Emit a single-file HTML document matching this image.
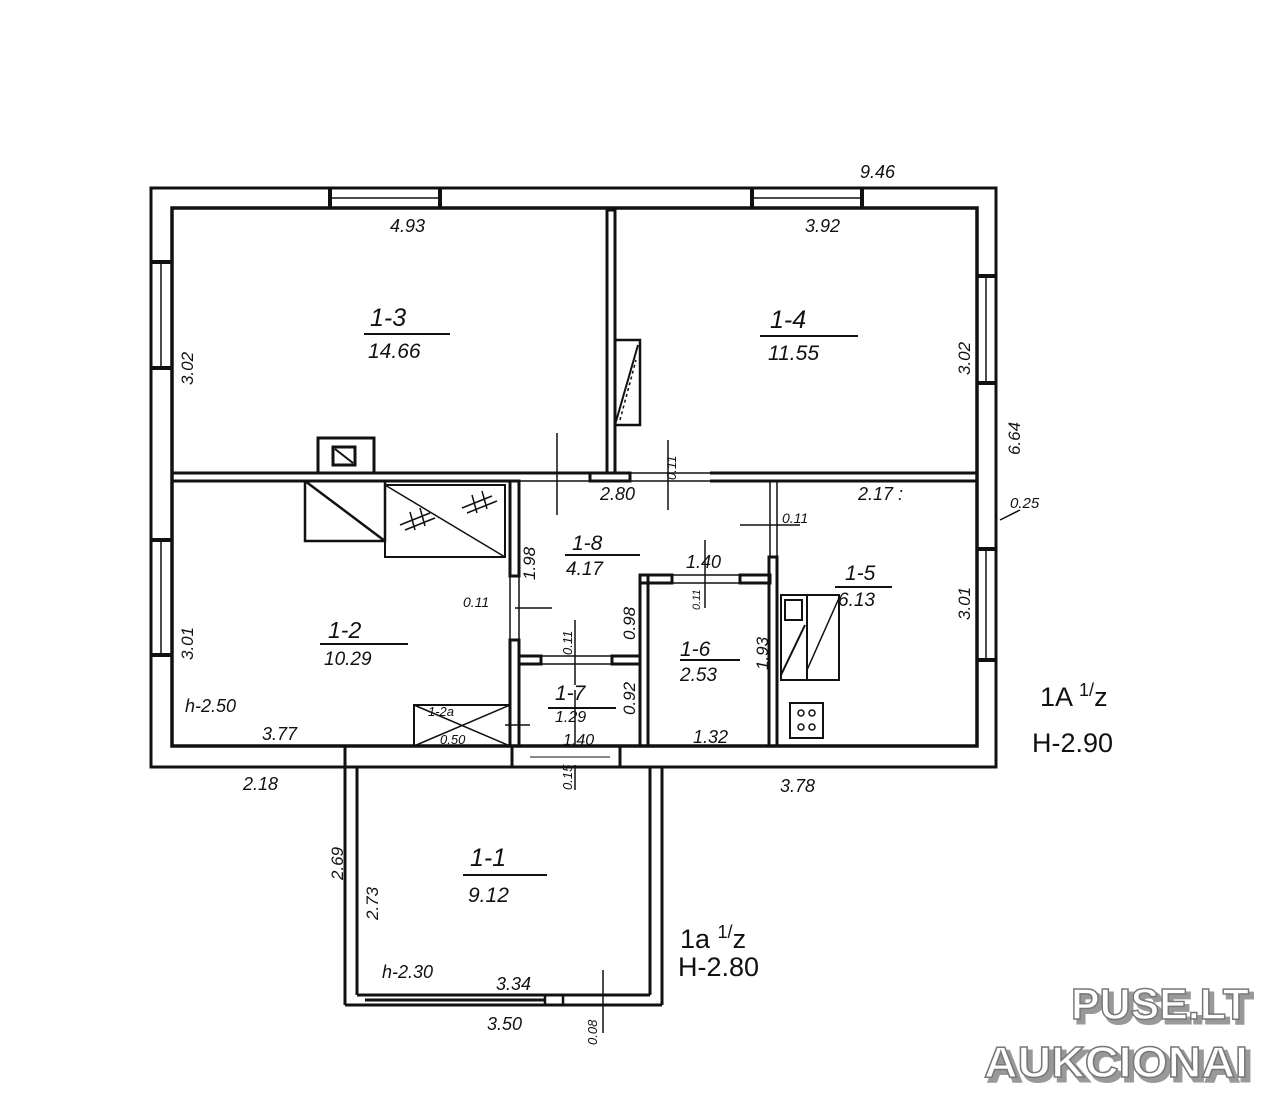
<!DOCTYPE html>
<html><head><meta charset="utf-8"><style>
html,body{margin:0;padding:0;background:#fff;}
svg{display:block;}
text{font-family:"Liberation Sans",sans-serif;font-style:italic;fill:#111;}
.wm{font-family:"Liberation Sans",sans-serif;font-style:normal;font-weight:bold;fill:#fff;stroke:#777;stroke-width:1.5;}
.sh{font-family:"Liberation Sans",sans-serif;font-style:normal;font-weight:bold;fill:#999;stroke:#999;stroke-width:3;}
</style></head><body>
<svg width="1280" height="1107" viewBox="0 0 1280 1107" xmlns="http://www.w3.org/2000/svg">
<g fill="none" stroke="#111">
<rect x="151" y="188" width="845" height="579" stroke-width="3"/>
<rect x="172" y="208" width="805" height="538" stroke-width="3.5"/>
<line x1="330" y1="188" x2="330" y2="208" stroke-width="4"/>
<line x1="440" y1="188" x2="440" y2="208" stroke-width="4"/>
<line x1="330" y1="198" x2="440" y2="198" stroke-width="1.5"/>
<line x1="752" y1="188" x2="752" y2="208" stroke-width="4"/>
<line x1="862" y1="188" x2="862" y2="208" stroke-width="4"/>
<line x1="752" y1="198" x2="862" y2="198" stroke-width="1.5"/>
<line x1="151" y1="262" x2="172" y2="262" stroke-width="4"/>
<line x1="151" y1="368" x2="172" y2="368" stroke-width="4"/>
<line x1="161" y1="262" x2="161" y2="368" stroke-width="1.5"/>
<line x1="151" y1="540" x2="172" y2="540" stroke-width="4"/>
<line x1="151" y1="655" x2="172" y2="655" stroke-width="4"/>
<line x1="161" y1="540" x2="161" y2="655" stroke-width="1.5"/>
<line x1="977" y1="276" x2="996" y2="276" stroke-width="4"/>
<line x1="977" y1="383" x2="996" y2="383" stroke-width="4"/>
<line x1="986" y1="276" x2="986" y2="383" stroke-width="1.5"/>
<line x1="977" y1="549" x2="996" y2="549" stroke-width="4"/>
<line x1="977" y1="660" x2="996" y2="660" stroke-width="4"/>
<line x1="986" y1="549" x2="986" y2="660" stroke-width="1.5"/>
<line x1="345" y1="746" x2="345" y2="767" stroke-width="3"/>
<line x1="512" y1="746" x2="512" y2="767" stroke-width="3"/>
<line x1="620" y1="746" x2="620" y2="767" stroke-width="3"/>
<line x1="530" y1="757" x2="610" y2="757" stroke-width="1"/>

<line x1="172" y1="473" x2="590" y2="473" stroke-width="3"/>
<line x1="172" y1="481" x2="510" y2="481" stroke-width="3"/>
<line x1="520" y1="481" x2="590" y2="481" stroke-width="1.5"/>
<rect x="590" y="473" width="40" height="8" stroke-width="3"/>
<line x1="630" y1="473" x2="710" y2="473" stroke-width="1.5"/>
<line x1="630" y1="481" x2="710" y2="481" stroke-width="1.5"/>
<line x1="710" y1="473" x2="977" y2="473" stroke-width="3"/>
<line x1="710" y1="481" x2="977" y2="481" stroke-width="3"/>
<rect x="607" y="210" width="8" height="263" stroke-width="3"/>
<rect x="615" y="340" width="25" height="85" stroke-width="2.5"/>
<line x1="615" y1="425" x2="638" y2="345" stroke-width="2"/>
<line x1="620" y1="420" x2="636" y2="360" stroke-width="1.5" stroke-dasharray="3,3"/>
<rect x="510" y="481" width="9" height="95" stroke-width="3"/>
<line x1="510" y1="576" x2="510" y2="640" stroke-width="1.5"/>
<line x1="519" y1="576" x2="519" y2="640" stroke-width="1.5"/>
<rect x="510" y="640" width="9" height="106" stroke-width="3"/>
<rect x="519" y="656" width="22" height="8" stroke-width="3"/>
<line x1="541" y1="656" x2="612" y2="656" stroke-width="1.5"/>
<line x1="541" y1="664" x2="612" y2="664" stroke-width="1.5"/>
<rect x="612" y="656" width="28" height="8" stroke-width="3"/>
<rect x="640" y="575" width="8" height="171" stroke-width="3"/>
<rect x="640" y="575" width="32" height="8" stroke-width="3"/>
<line x1="672" y1="575" x2="740" y2="575" stroke-width="1.5"/>
<line x1="672" y1="583" x2="740" y2="583" stroke-width="1.5"/>
<rect x="740" y="575" width="30" height="8" stroke-width="3"/>
<line x1="770" y1="481" x2="770" y2="557" stroke-width="1.5"/>
<line x1="777" y1="481" x2="777" y2="557" stroke-width="1.5"/>
<rect x="769" y="557" width="8" height="189" stroke-width="3"/>
<rect x="781" y="595" width="26" height="85" stroke-width="2"/>
<rect x="807" y="595" width="32" height="85" stroke-width="2"/>
<rect x="785" y="600" width="17" height="20" stroke-width="2"/>
<line x1="781" y1="675" x2="805" y2="625" stroke-width="2"/>
<line x1="807" y1="670" x2="839" y2="598" stroke-width="1.5"/>
<rect x="790" y="703" width="33" height="35" stroke-width="2"/>
<circle cx="801" cy="713" r="3" stroke-width="1.5"/><circle cx="812" cy="713" r="3" stroke-width="1.5"/>
<circle cx="801" cy="727" r="3" stroke-width="1.5"/><circle cx="812" cy="727" r="3" stroke-width="1.5"/>
<rect x="318" y="438" width="56" height="35" stroke-width="3"/>
<rect x="333" y="447" width="22" height="18" stroke-width="3"/>
<line x1="335" y1="449" x2="353" y2="463" stroke-width="2"/>
<rect x="305" y="481" width="80" height="60" stroke-width="2.5"/>
<line x1="305" y1="481" x2="385" y2="541" stroke-width="2.5"/>
<rect x="385" y="485" width="120" height="72" stroke-width="2"/>
<line x1="385" y1="485" x2="505" y2="557" stroke-width="1.5"/>
<path d="M400 525 l30 -12 M405 530 l30 -12 M410 512 l5 18 M420 508 l5 18" stroke-width="1.5"/>
<path d="M462 508 l30 -12 M467 513 l30 -12 M472 495 l5 18 M482 491 l5 18" stroke-width="1.5"/>
<rect x="414" y="705" width="96" height="41" stroke-width="2"/>
<line x1="414" y1="705" x2="510" y2="746" stroke-width="1.5"/>
<line x1="414" y1="746" x2="510" y2="705" stroke-width="1.5"/>
<line x1="345" y1="767" x2="345" y2="1005" stroke-width="3"/>
<line x1="357" y1="767" x2="357" y2="995" stroke-width="3"/>
<line x1="662" y1="767" x2="662" y2="1005" stroke-width="3"/>
<line x1="650" y1="767" x2="650" y2="995" stroke-width="3"/>
<line x1="345" y1="1005" x2="662" y2="1005" stroke-width="3"/>
<line x1="357" y1="995" x2="650" y2="995" stroke-width="3"/>
<line x1="365" y1="1000" x2="545" y2="1000" stroke-width="3"/>
<rect x="545" y="995" width="18" height="10" stroke-width="2.5"/>
<g stroke-width="2">
<line x1="364" y1="334" x2="450" y2="334"/>
<line x1="760" y1="336" x2="858" y2="336"/>
<line x1="565" y1="555" x2="640" y2="555"/>
<line x1="320" y1="644" x2="408" y2="644"/>
<line x1="680" y1="660" x2="740" y2="660"/>
<line x1="548" y1="708" x2="616" y2="708"/>
<line x1="835" y1="587" x2="892" y2="587"/>
<line x1="463" y1="875" x2="547" y2="875"/>
</g>
<g stroke-width="1.5">
<line x1="557" y1="433" x2="557" y2="515"/>
<line x1="668" y1="440" x2="668" y2="510"/>
<line x1="740" y1="525" x2="800" y2="525"/>
<line x1="705" y1="540" x2="705" y2="608"/>
<line x1="515" y1="608" x2="552" y2="608"/>
<line x1="575" y1="620" x2="575" y2="685"/>
<line x1="575" y1="690" x2="575" y2="745"/>
<line x1="505" y1="725" x2="530" y2="725"/>
<line x1="575" y1="765" x2="575" y2="790"/>
<line x1="603" y1="970" x2="603" y2="1033"/>
<line x1="1000" y1="520" x2="1020" y2="510"/>
</g>
</g>
<g font-size="18">
<text x="390" y="232">4.93</text>
<text x="805" y="232">3.92</text>
<text x="860" y="178">9.46</text>
<text x="370" y="326" font-size="25">1-3</text>
<text x="368" y="358" font-size="21">14.66</text>
<text x="770" y="328" font-size="25">1-4</text>
<text x="768" y="360" font-size="21">11.55</text>
<text x="600" y="500">2.80</text>
<text x="858" y="500">2.17 :</text>
<text x="572" y="550" font-size="21">1-8</text>
<text x="566" y="575" font-size="19">4.17</text>
<text x="686" y="568">1.40</text>
<text x="328" y="638" font-size="23">1-2</text>
<text x="324" y="665" font-size="19">10.29</text>
<text x="845" y="580" font-size="21">1-5</text>
<text x="838" y="606" font-size="19">6.13</text>
<text x="680" y="656" font-size="21">1-6</text>
<text x="680" y="681" font-size="19">2.53</text>
<text x="555" y="700" font-size="21">1-7</text>
<text x="555" y="722" font-size="16">1.29</text>
<text x="563" y="745" font-size="16">1.40</text>
<text x="463" y="607" font-size="14">0.11</text>
<text x="782" y="523" font-size="14">0.11</text>
<text x="185" y="712">h-2.50</text>
<text x="262" y="740">3.77</text>
<text x="693" y="743">1.32</text>
<text x="243" y="790">2.18</text>
<text x="780" y="792">3.78</text>
<text x="1010" y="508" font-size="15">0.25</text>
<text x="1040" y="706" font-size="27" style="font-style:normal">1A <tspan font-size="18" dy="-10">1/</tspan><tspan dy="10">z</tspan></text>
<text x="1032" y="752" font-size="27" style="font-style:normal">H-2.90</text>
<text x="470" y="866" font-size="25">1-1</text>
<text x="468" y="902" font-size="21">9.12</text>
<text x="382" y="978">h-2.30</text>
<text x="496" y="990">3.34</text>
<text x="487" y="1030">3.50</text>
<text x="680" y="948" font-size="27" style="font-style:normal">1a <tspan font-size="18" dy="-10">1/</tspan><tspan dy="10">z</tspan></text>
<text x="678" y="976" font-size="27" style="font-style:normal">H-2.80</text>
<text x="428" y="716" font-size="13">1-2a</text>
<text x="440" y="744" font-size="13">0.50</text>
</g>
<g font-size="17">
<text transform="translate(193,385) rotate(-90)">3.02</text>
<text transform="translate(970,375) rotate(-90)">3.02</text>
<text transform="translate(1020,455) rotate(-90)">6.64</text>
<text transform="translate(193,660) rotate(-90)">3.01</text>
<text transform="translate(970,620) rotate(-90)">3.01</text>
<text transform="translate(535,580) rotate(-90)">1.98</text>
<text transform="translate(635,640) rotate(-90)">0.98</text>
<text transform="translate(635,715) rotate(-90)">0.92</text>
<text transform="translate(768,670) rotate(-90)">1.93</text>
<text transform="translate(676,480) rotate(-90)" font-size="13">0.11</text>
<text transform="translate(572,655) rotate(-90)" font-size="13">0.11</text>
<text transform="translate(700,610) rotate(-90)" font-size="11">0.11</text>
<text transform="translate(572,790) rotate(-90)" font-size="13">0.15</text>
<text transform="translate(343,880) rotate(-90)">2.69</text>
<text transform="translate(378,920) rotate(-90)">2.73</text>
<text transform="translate(597,1045) rotate(-90)" font-size="13">0.08</text>
</g>
<g font-size="44">
<text x="1075" y="1023" class="sh" textLength="178" lengthAdjust="spacingAndGlyphs">PUSE.LT</text>
<text x="988" y="1081" class="sh" textLength="264" lengthAdjust="spacingAndGlyphs">AUKCIONAI</text>
<text x="1071" y="1019" class="wm" textLength="178" lengthAdjust="spacingAndGlyphs">PUSE.LT</text>
<text x="984" y="1077" class="wm" textLength="264" lengthAdjust="spacingAndGlyphs">AUKCIONAI</text>
</g>
</svg>
</body></html>
